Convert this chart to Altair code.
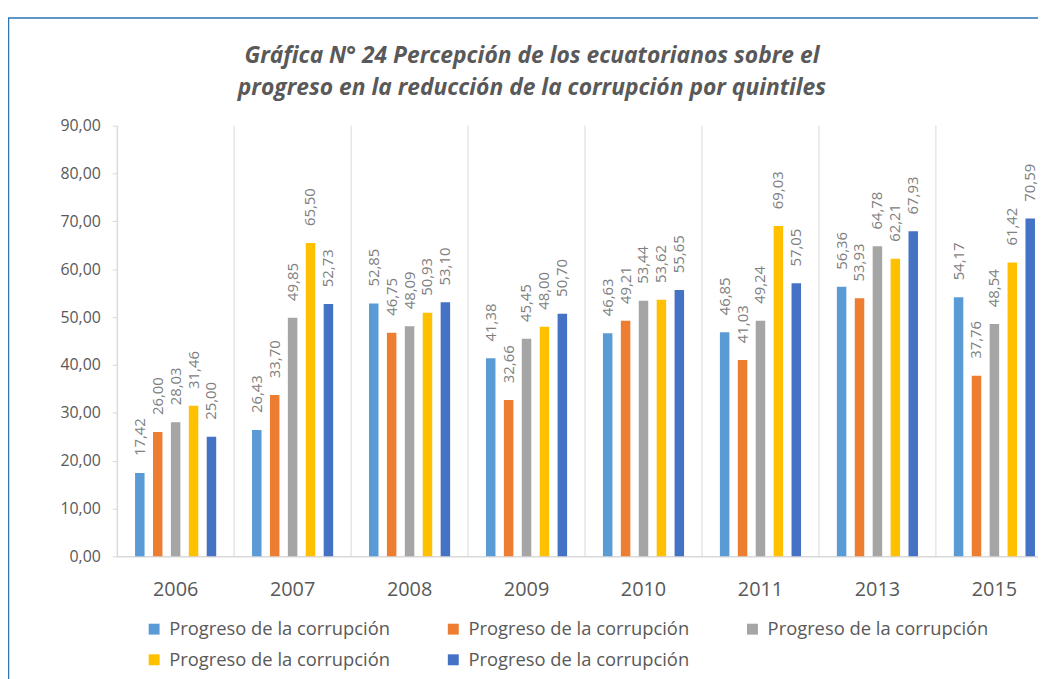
import altair as alt
import pandas as pd

# ---- data ----
years = ["2006", "2007", "2008", "2009", "2010", "2011", "2013", "2015"]
series_keys = ["s1", "s2", "s3", "s4", "s5"]
series_label = "Progreso de la corrupción"
s1 = [17.42, 26.43, 52.85, 41.38, 46.63, 46.85, 56.36, 54.17]
s2 = [26.00, 33.70, 46.75, 32.66, 49.21, 41.03, 53.93, 37.76]
s3 = [28.03, 49.85, 48.09, 45.45, 53.44, 49.24, 64.78, 48.54]
s4 = [31.46, 65.50, 50.93, 48.00, 53.62, 69.03, 62.21, 61.42]
s5 = [25.00, 52.73, 53.10, 50.70, 55.65, 57.05, 67.93, 70.59]
y_ticks = [0, 10, 20, 30, 40, 50, 60, 70, 80, 90]
colors = ["#5B9BD5", "#ED7D31", "#A5A5A5", "#FFC000", "#4472C4"]
title_lines = [
    "Gráfica N° 24 Percepción de los ecuatorianos sobre el",
    "progreso en la reducción de la corrupción por quintiles",
]

rows = []
for key, vals in zip(series_keys, [s1, s2, s3, s4, s5]):
    for yr, v in zip(years, vals):
        rows.append({"year": yr, "series": key, "value": v,
                     "label": f"{v:.2f}".replace(".", ",")})
df = pd.DataFrame(rows)
years_df = pd.DataFrame({"year": years})
one_df = pd.DataFrame({"k": [0]})

FONT = "Open Sans"
GRID = "#D9D9D9"
TXT = "#595959"

x_scale = alt.Scale(domain=years, range=[0, 943], paddingInner=0, paddingOuter=0)
x_axis = alt.Axis(title=None, ticks=False, tickSize=0, grid=False, labelAngle=0,
                  labelFont=FONT, labelFontSize=20, labelColor=TXT, labelPadding=23,
                  domainColor=GRID, domainWidth=1.5)
y_scale = alt.Scale(domain=[0, 90], nice=False)
y_axis = alt.Axis(title=None, values=y_ticks, grid=False,
                  labelExpr="replace(format(datum.value, '.2f'), '.', ',')",
                  labelFont=FONT, labelFontSize=16, labelColor=TXT, labelPadding=12,
                  domainColor=GRID, tickColor=GRID, tickSize=5)
xo_scale = alt.Scale(domain=series_keys, paddingInner=0.47, paddingOuter={"expr": "1.2"})

frame = alt.Chart(one_df).mark_rect(fillOpacity=0, stroke="#2E75B6", strokeWidth=1.5).encode(
    x=alt.value(-109.5), x2=alt.value(1000), y=alt.value(-108.5), y2=alt.value(700)
)

title = alt.Chart(one_df).mark_text(
    font=FONT, fontSize=23, fontWeight="bold", fontStyle="italic", color=TXT,
    align="center", baseline="alphabetic", lineHeight=32,
).encode(x=alt.value(418), y=alt.value(-63), text=alt.value(title_lines))

grid = alt.Chart(years_df).mark_rule(color=GRID, strokeWidth=1).encode(
    x=alt.X("year:N", scale=x_scale, axis=x_axis, bandPosition=0),
    y=alt.datum(0, scale=y_scale, axis=y_axis),
    y2=alt.datum(90),
)

bars = alt.Chart(df).mark_bar().encode(
    x=alt.X("year:N", scale=x_scale, axis=x_axis),
    xOffset=alt.XOffset("series:N", scale=xo_scale),
    y=alt.Y("value:Q", scale=y_scale, axis=y_axis),
    color=alt.Color("series:N", scale=alt.Scale(domain=series_keys, range=colors),
                    legend=alt.Legend(orient="none", legendX=28, legendY=498, columns=3,
                                      direction="horizontal",
                                      title=None, symbolType="square", symbolSize=121,
                                      symbolStrokeWidth=0, labelFont=FONT, labelFontSize=18.5,
                                      labelColor=TXT, labelOffset=6, labelLimit=400,
                                      columnPadding=53.5, rowPadding=12,
                                      labelExpr=f"'{series_label}'")),
)

labels = alt.Chart(df).mark_text(angle=270, align="left", baseline="middle", dx=17,
                                 font=FONT, fontSize=15, color="#808080").encode(
    x=alt.X("year:N", scale=x_scale, axis=x_axis),
    xOffset=alt.XOffset("series:N", scale=xo_scale),
    y=alt.Y("value:Q", scale=y_scale, axis=y_axis),
    text="label:N",
)

chart = alt.layer(frame, title, grid, bars, labels).properties(
    width=928, height=434,
    autosize=alt.AutoSizeParams(type="none"),
    padding={"left": 110, "top": 116, "right": 0, "bottom": 121},
).configure_view(stroke=None)

chart.save("out.html", embed_options={"renderer": "svg", "actions": False})
